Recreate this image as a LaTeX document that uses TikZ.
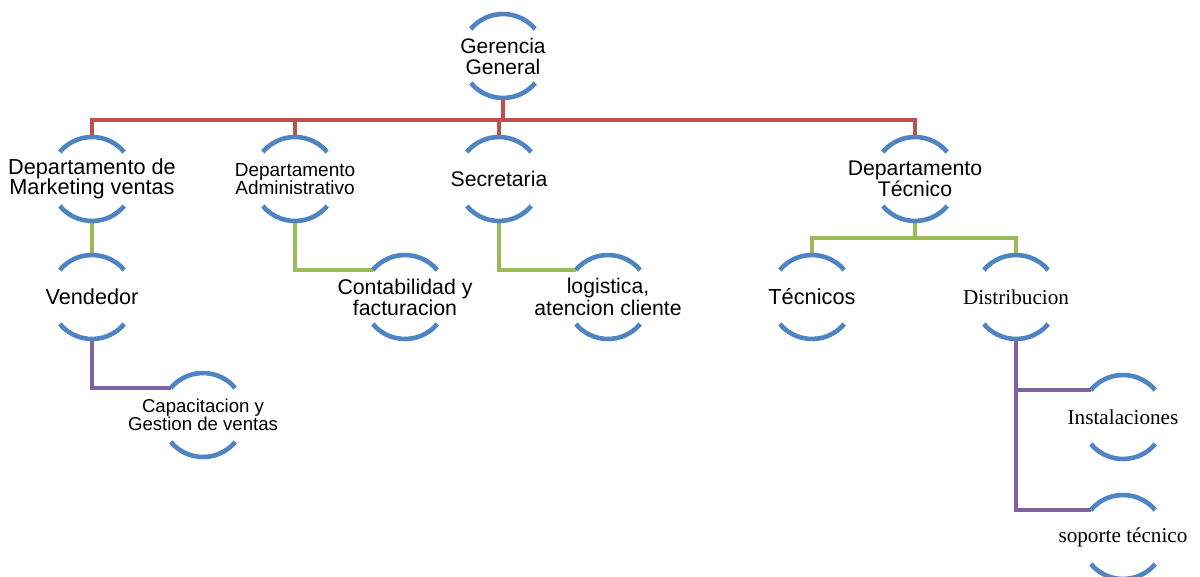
\documentclass[tikz,border=0pt]{standalone}
\usepackage{fontspec}
\setmainfont{Liberation Serif}
\newfontfamily\arialfont{Liberation Sans}
\definecolor{arcblue}{RGB}{79,132,196}
\definecolor{linkred}{RGB}{192,80,77}
\definecolor{linkgreen}{RGB}{155,187,89}
\definecolor{linkpurple}{RGB}{128,100,162}
\newcommand{\sanssize}[2]{\arialfont\fontsize{#1}{#2}\selectfont}
\begin{document}
\begin{tikzpicture}[x=1pt,y=1pt,
  bubble/.style={circle,minimum size=84pt,inner sep=0pt,outer sep=0pt},
  txt/.style={align=center,inner sep=0pt},
  seriflbl/.style={txt,font=\fontsize{21.2}{22}\selectfont},
  arcline/.style={draw=arcblue,line width=4.6pt},
  redlink/.style={draw=linkred,line width=4.6pt},
  greenlink/.style={draw=linkgreen,line width=4.6pt},
  purplelink/.style={draw=linkpurple,line width=4.6pt}]
\useasboundingbox (0,0) rectangle (1200,-576);

% top level
\node[bubble,label={[txt,font=\sanssize{21}{21}]center:{Gerencia\\General}}] (gg) at (503,-56) {};

% departments
\node[bubble,label={[txt,font=\sanssize{21.7}{20.5}]center:{Departamento de\\Marketing ventas}}] (mk) at (92,-179) {};
\node[bubble,label={[txt,font=\sanssize{19}{17.5}]center:{Departamento\\Administrativo}}] (ad) at (295,-179) {};
\node[bubble,label={[txt,font=\sanssize{21.2}{21}]center:{Secretaria}}] (se) at (499,-179) {};
\node[bubble,label={[txt,font=\sanssize{21.2}{21}]center:{Departamento\\Técnico}}] (dt) at (915,-179) {};

% second level
\node[bubble,label={[txt,font=\sanssize{21.7}{21}]center:{Vendedor}}] (ve) at (92,-297) {};
\node[bubble,label={[txt,font=\sanssize{21.3}{21}]center:{Contabilidad y\\facturacion}}] (co) at (405,-297) {};
\node[bubble,label={[txt,font=\sanssize{21.2}{22}]center:{logistica,\\atencion cliente}}] (lo) at (608,-297) {};
\node[bubble,label={[txt,font=\sanssize{21.8}{21}]center:{Técnicos}}] (te) at (812,-297) {};
\node[bubble,label={[seriflbl]center:{Distribucion}}] (di) at (1016,-297) {};

% third level
\node[bubble,label={[txt,font=\sanssize{18.6}{18.5}]center:{Capacitacion y\\Gestion de ventas}}] (ca) at (203,-415) {};
\node[bubble,label={[seriflbl]center:{Instalaciones}}] (ins) at (1123,-417) {};
\node[bubble,label={[seriflbl]center:{soporte técnico}}] (so) at (1123,-537) {};

% red links
\coordinate (bus) at (503,-120);
\draw[redlink] (gg.south) -- (bus);
\draw[redlink] (mk.north) |- (bus) -| (dt.north);
\draw[redlink] (ad.north) -- (ad.north |- bus);
\draw[redlink] (se.north) -- (se.north |- bus);

% green links
\draw[greenlink] (mk.south) -- (ve.north);
\draw[greenlink] (ad.south) |- (co.140);
\draw[greenlink] (se.south) |- (lo.140);
\coordinate (tbus) at (915,-238);
\draw[greenlink] (dt.south) -- (tbus);
\draw[greenlink] (te.north) |- (tbus) -| (di.north);

% purple links
\draw[purplelink] (ve.south) |- (ca.140);
\draw[purplelink] (di.south) |- (so.140);
\draw[purplelink] (di.south |- ins.140) -- (ins.140);

% open circle outlines: upper and lower arcs
\foreach \n in {gg,mk,ad,se,dt,ve,co,lo,te,di,ca,ins,so}{
  \draw[arcline] (\n.40) arc[start angle=40,end angle=140,radius=42pt];
  \draw[arcline] (\n.220) arc[start angle=220,end angle=320,radius=42pt];
}
\end{tikzpicture}
\end{document}
